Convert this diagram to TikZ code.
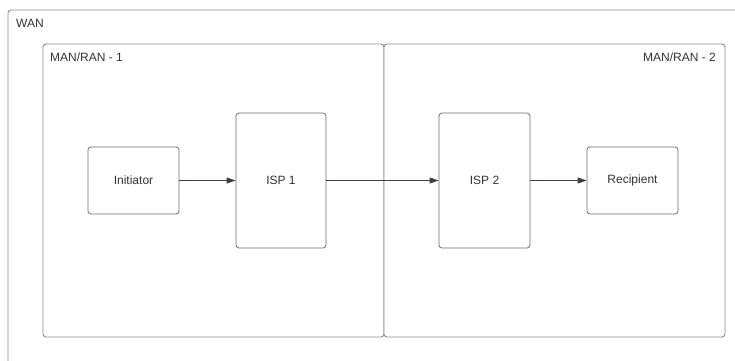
\documentclass[tikz,border=0pt]{standalone}
\usepackage{fontspec}
\setmainfont{Liberation Sans}
\usetikzlibrary{arrows.meta}
\definecolor{framec}{HTML}{8C8C8C}
\definecolor{boxc}{HTML}{6E6E6E}
\definecolor{txtc}{HTML}{333333}
\definecolor{arrc}{HTML}{3A414A}
\begin{document}
\begin{tikzpicture}[x=1pt,y=-1pt,
  frame/.style={draw=framec, line width=0.9pt, rounded corners=3pt, fill=white},
  stepbox/.style={draw=boxc, line width=0.8pt, rounded corners=3pt, fill=white, text=txtc, font=\fontsize{12}{14}\selectfont, inner sep=0pt},
  lbl/.style={text=txtc, font=\fontsize{12}{14}\selectfont, inner sep=0pt},
  conn/.style={draw=arrc, line width=0.8pt, -{Triangle[length=9pt,width=6pt]}}
]
\useasboundingbox (0,0) rectangle (735,360);
\begin{scope}
\clip (0,0) rectangle (735,360);
\draw[frame] (8,10) rectangle (760,380);
\end{scope}
\node[lbl, anchor=base west] (wan) at (16,27) {WAN};
\draw[frame] (43,44) rectangle (384,337);
\draw[frame] (384,44) rectangle (725,337);
\node[lbl, anchor=base west] (man1) at (50,61) {MAN/RAN - 1};
\node[lbl, anchor=base east] (man2) at (716,61) {MAN/RAN - 2};
\node[stepbox, minimum width=91pt, minimum height=67pt] (init) at (133.5,180.5) {Initiator};
\node[stepbox, minimum width=90pt, minimum height=135pt] (isp1) at (281,180.5) {ISP 1};
\node[stepbox, minimum width=91pt, minimum height=135pt] (isp2) at (484.5,180.5) {ISP 2};
\node[stepbox, minimum width=91pt, minimum height=67pt] (rec) at (632.5,180.5) {Recipient};
\draw[conn] (init) -- (isp1);
\draw[conn] (isp1) -- (isp2);
\draw[conn] (isp2) -- (rec);
\end{tikzpicture}
\end{document}
